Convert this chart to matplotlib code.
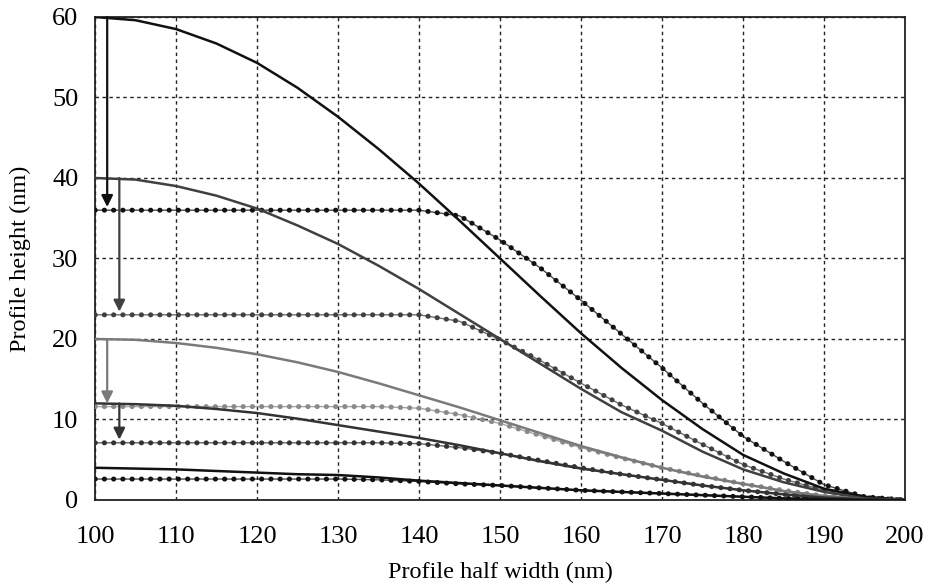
import numpy as np
import matplotlib
matplotlib.use('Agg')
import matplotlib.pyplot as plt

plt.rcParams['font.family'] = ['Liberation Serif', 'DejaVu Serif']

# profile half width (nm)
half_width = [100, 105, 110, 115, 120, 125, 130, 135, 140, 145, 150,
              155, 160, 165, 170, 175, 180, 185, 190, 195, 200]

# initial profiles (solid)
h60 = [60, 59.6, 58.5, 56.7, 54.3, 51.2, 47.6, 43.6, 39.3, 34.7, 30.0,
       25.3, 20.7, 16.4, 12.4, 8.8, 5.6, 3.3, 1.4, 0.4, 0]
h40 = [40, 39.8, 39.0, 37.8, 36.2, 34.1, 31.8, 29.1, 26.2, 23.1, 20.0,
       16.9, 13.8, 10.9, 8.6, 6.0, 3.8, 2.2, 1.0, 0.2, 0]
h20 = [20, 19.9, 19.5, 18.9, 18.1, 17.1, 15.9, 14.5, 13.0, 11.5, 9.9,
       8.3, 6.7, 5.3, 4.0, 2.9, 2.0, 1.1, 0.5, 0.1, 0]
h12 = [12, 11.9, 11.7, 11.3, 10.8, 10.1, 9.3, 8.5, 7.7, 6.8, 5.8,
       4.8, 3.9, 3.2, 2.5, 1.8, 1.2, 0.7, 0.3, 0.1, 0]
h4 = [4.0, 3.9, 3.8, 3.6, 3.4, 3.2, 3.1, 2.8, 2.4, 2.1, 1.8,
      1.5, 1.2, 1.0, 0.8, 0.6, 0.4, 0.2, 0.1, 0.0, 0]

# reflowed profiles (dotted)
r36 = [36, 36, 36, 36, 36, 36, 36, 36, 36, 35.3, 32.3,
       28.8, 24.8, 20.6, 16.4, 12.0, 7.9, 4.8, 1.9, 0.4, 0]
r23 = [23, 23, 23, 23, 23, 23, 23, 23, 23, 22.2, 19.9,
       17.3, 14.5, 11.8, 9.5, 6.9, 4.4, 2.6, 1.2, 0.3, 0]
r12 = [11.6, 11.6, 11.6, 11.6, 11.6, 11.6, 11.6, 11.6, 11.4, 10.6, 9.5,
       8.0, 6.5, 5.2, 4.0, 3.0, 2.0, 1.2, 0.5, 0.1, 0]
r7 = [7.1, 7.1, 7.1, 7.1, 7.1, 7.1, 7.1, 7.1, 7.0, 6.5, 5.8,
      4.9, 4.0, 3.2, 2.5, 1.8, 1.2, 0.7, 0.3, 0.1, 0]
r2 = [2.6, 2.6, 2.6, 2.6, 2.6, 2.6, 2.6, 2.5, 2.3, 2.0, 1.8,
      1.5, 1.2, 1.0, 0.8, 0.6, 0.4, 0.2, 0.1, 0.0, 0]

solid = [(h60, '#111111'), (h40, '#404040'), (h20, '#7a7a7a'),
         (h12, '#333333'), (h4, '#111111')]
dotted = [(r36, '#111111'), (r23, '#404040'), (r12, '#8a8a8a'),
          (r7, '#333333'), (r2, '#111111')]

# arrows: x, from, to, colour
arrows = [(101.5, 60, 36, '#111111'), (103.0, 40, 23, '#404040'),
          (101.5, 20, 11.6, '#7a7a7a'), (103.0, 12, 7.1, '#333333')]

fig = plt.figure(figsize=(9.29, 5.88), dpi=100, facecolor='white')
ax = fig.add_axes([0.1023, 0.1497, 0.872, 0.8214])

for vals, col in dotted:
    ax.plot(half_width, vals, color=col, lw=1.0, alpha=0.75, zorder=3)
    ax.plot(half_width, vals, color=col, lw=3.6, ls=(0, (0.05, 1.8)),
            dash_capstyle='round', zorder=4)

for vals, col in solid:
    ax.plot(half_width, vals, color=col, lw=1.8, zorder=5)

for x, y0, y1, col in arrows:
    ax.annotate('', xy=(x, y1 + 0.4), xytext=(x, y0),
                arrowprops=dict(arrowstyle='-|>', color=col, lw=1.6,
                                mutation_scale=17, shrinkA=0, shrinkB=0),
                zorder=6)

ax.set_xlim(100, 200)
ax.set_ylim(0, 60)
ax.set_xticks(range(100, 201, 10))
ax.set_yticks(range(0, 61, 10))
ax.grid(True, color='#222222', lw=1.0, ls=(0, (2.5, 2.5)))
ax.tick_params(length=0, labelsize=19)
ax.tick_params(axis='y', pad=12)
ax.tick_params(axis='x', pad=19)
for sp in ax.spines.values():
    sp.set_color('#222222')
    sp.set_linewidth(1.3)

ax.set_xlabel('Profile half width (nm)', fontsize=17.5, labelpad=10)
ax.set_ylabel('Profile height (nm)', fontsize=17.5, labelpad=15)

fig.savefig('out.png', dpi=100, facecolor='white')
